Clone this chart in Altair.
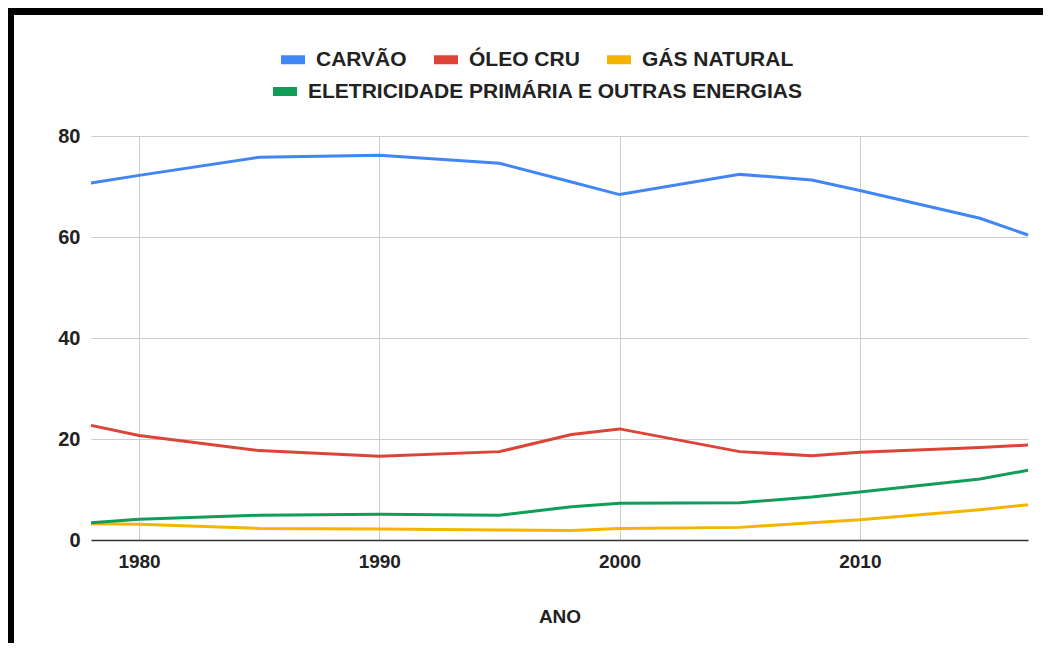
import altair as alt
import pandas as pd

years = [1978, 1980, 1985, 1990, 1995, 1998, 2000, 2005, 2008, 2010, 2015, 2017]
carvao = [70.7, 72.2, 75.8, 76.2, 74.6, 70.9, 68.4, 72.4, 71.3, 69.2, 63.7, 60.4]
oleo = [22.7, 20.7, 17.7, 16.6, 17.5, 20.9, 22.0, 17.5, 16.7, 17.4, 18.3, 18.8]
gas = [3.2, 3.1, 2.3, 2.2, 2.0, 1.9, 2.3, 2.5, 3.4, 4.0, 6.0, 7.0]
eletricidade = [3.4, 4.1, 4.9, 5.1, 4.9, 6.6, 7.3, 7.4, 8.5, 9.5, 12.1, 13.8]

series_a = ["CARVÃO", "ÓLEO CRU", "GÁS NATURAL"]
series_b = ["ELETRICIDADE PRIMÁRIA E OUTRAS ENERGIAS"]
colors_a = ["#4285F4", "#DB4437", "#F4B400"]
colors_b = ["#0F9D58"]

x_ticks = [1980, 1990, 2000, 2010]
y_ticks = [0, 20, 40, 60, 80]

rows = []
for name, vals in zip(series_a + series_b, [carvao, oleo, gas, eletricidade]):
    for yr, v in zip(years, vals):
        rows.append({"ano": yr, "valor": v, "serie": name})
df = pd.DataFrame(rows)

FONT = "Liberation Sans"
W, H = 937, 404

x_enc = alt.X(
    "ano:Q",
    scale=alt.Scale(domain=[1978, 2017], nice=False, zero=False),
    axis=alt.Axis(
        values=x_ticks, format="d", title="ANO",
        labelFont=FONT, labelFontSize=19, labelFontWeight="bold", labelColor="#222222",
        labelPadding=12, tickSize=0, ticks=False,
        domainColor="#333333", domainWidth=1.5,
        grid=True, gridColor="#cccccc", gridWidth=1,
        titleFont=FONT, titleFontSize=19, titleFontWeight="bold", titleColor="#222222",
        titlePadding=36,
    ),
)
y_enc = alt.Y(
    "valor:Q",
    scale=alt.Scale(domain=[0, 80], nice=False),
    axis=alt.Axis(
        values=y_ticks, title=None,
        labelFont=FONT, labelFontSize=20, labelFontWeight="bold", labelColor="#222222",
        labelPadding=11, ticks=False, tickSize=0, domain=False,
        grid=True, gridColor="#cccccc", gridWidth=1,
    ),
)

def legend(lx, ly):
    return alt.Legend(
        orient="none", legendX=lx, legendY=ly, direction="horizontal", title=None,
        symbolType="stroke", symbolSize=576, symbolStrokeWidth=9,
        labelFont=FONT, labelFontSize=21, labelFontWeight="bold", labelColor="#222222",
        labelOffset=6.5, columnPadding=8, padding=0, labelLimit=900,
    )

lines_a = alt.Chart(df).transform_filter(
    alt.FieldOneOfPredicate(field="serie", oneOf=series_a)
).mark_line(strokeWidth=3).encode(
    x=x_enc, y=y_enc,
    color=alt.Color("serie:N", sort=series_a,
                    scale=alt.Scale(domain=series_a, range=colors_a),
                    legend=legend(185.5, -93)),
)

lines_b = alt.Chart(df).transform_filter(
    alt.FieldOneOfPredicate(field="serie", oneOf=series_b)
).mark_line(strokeWidth=3).encode(
    x=x_enc, y=y_enc,
    color=alt.Color("serie:N",
                    scale=alt.Scale(domain=series_b, range=colors_b),
                    legend=legend(177.5, -61)),
)

frame_df = pd.DataFrame({"k": [0]})
top_bar = alt.Chart(frame_df).mark_rect(color="black").encode(
    x=alt.value(-83), x2=alt.value(952), y=alt.value(-128), y2=alt.value(-121)
)
left_bar = alt.Chart(frame_df).mark_rect(color="black").encode(
    x=alt.value(-83), x2=alt.value(-77), y=alt.value(-128), y2=alt.value(507)
)

chart = alt.layer(lines_a, lines_b, top_bar, left_bar).resolve_scale(
    color="independent"
).properties(
    width=W, height=H, padding=0, background="white"
).configure_view(stroke=None)

chart.save("out.html", embed_options={"renderer": "svg", "actions": False})
